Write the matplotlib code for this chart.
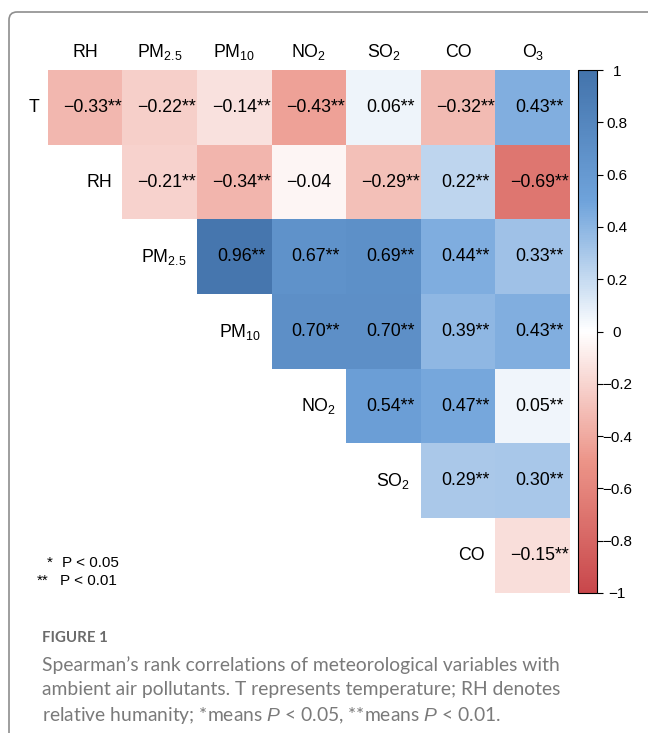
"""Spearman rank correlations between meteorology and air pollutants,
upper-triangle heatmap with significance stars and a caption block."""
import numpy as np
import matplotlib.pyplot as plt
from matplotlib.colors import LinearSegmentedColormap
from matplotlib.patches import FancyBboxPatch
from matplotlib.transforms import IdentityTransform

plt.rcParams['font.family'] = ['Liberation Sans', 'DejaVu Sans']
plt.rcParams['mathtext.fontset'] = 'custom'
plt.rcParams['mathtext.rm'] = 'Liberation Sans'
plt.rcParams['mathtext.it'] = 'Liberation Sans:italic'

row_labels = ['T', 'RH', r'PM$_\mathregular{2.5}$', r'PM$_\mathregular{10}$',
              r'NO$_\mathregular{2}$', r'SO$_\mathregular{2}$', 'CO']
col_labels = ['RH', r'PM$_\mathregular{2.5}$', r'PM$_\mathregular{10}$',
              r'NO$_\mathregular{2}$', r'SO$_\mathregular{2}$', 'CO', r'O$_\mathregular{3}$']

# upper triangle, one list per row (starting at the diagonal column)
rho_T    = [-0.33, -0.22, -0.14, -0.43, 0.06, -0.32, 0.43]
rho_RH   = [-0.21, -0.34, -0.04, -0.29, 0.22, -0.69]
rho_PM25 = [0.96, 0.67, 0.69, 0.44, 0.33]
rho_PM10 = [0.70, 0.70, 0.39, 0.43]
rho_NO2  = [0.54, 0.47, 0.05]
rho_SO2  = [0.29, 0.30]
rho_CO   = [-0.15]

sig_T    = ['**'] * 7
sig_RH   = ['**', '**', '', '**', '**', '**']
sig_PM25 = ['**'] * 5
sig_PM10 = ['**'] * 4
sig_NO2  = ['**'] * 3
sig_SO2  = ['**'] * 2
sig_CO   = ['**']

rho_rows = [rho_T, rho_RH, rho_PM25, rho_PM10, rho_NO2, rho_SO2, rho_CO]
sig_rows = [sig_T, sig_RH, sig_PM25, sig_PM10, sig_NO2, sig_SO2, sig_CO]

n = len(col_labels)
M = np.full((n, n), np.nan)
for i, vals in enumerate(rho_rows):
    M[i, i:] = vals

cmap = LinearSegmentedColormap.from_list(
    'rb', [(0.0, '#c8474b'), (0.25, '#ec9488'), (0.5, '#ffffff'),
           (0.75, '#6fa3db'), (1.0, '#4373ab')])
cmap.set_bad('white')

W, H = 648, 733
fig = plt.figure(figsize=(W / 100, H / 100), dpi=100)

# outer frame (runs off the right and bottom edges)
frame = FancyBboxPatch((9, -40), 700, H - 12 + 40,
                       boxstyle='round,pad=0,rounding_size=8',
                       transform=IdentityTransform(), fill=False,
                       ec='#8e8e8e', lw=1.2)
fig.add_artist(frame)

gx0, gx1, gy0, gy1 = 48, 570, 70, 593
ax = fig.add_axes([gx0 / W, 1 - gy1 / H, (gx1 - gx0) / W, (gy1 - gy0) / H])
im = ax.imshow(M, cmap=cmap, vmin=-1, vmax=1, aspect='auto',
               interpolation='nearest')
ax.set_xlim(-0.5, n - 0.5)
ax.set_ylim(n - 0.5, -0.5)
ax.axis('off')

fs = 12.8
for i in range(n):
    for j in range(i, n):
        v = M[i, j]
        s = sig_rows[i][j - i]
        num = f'{v:.2f}'.replace('-', '\u2212')
        # number centred in the cell, stars hang off to the right
        off = 0.39 * fs * len(s) / 2
        ax.annotate(num + s, (j, i), xytext=(off, 0), textcoords='offset points',
                    ha='center', va='center', fontsize=fs, color='black')

for j, lab in enumerate(col_labels):
    ax.text(j, -0.74, lab, ha='center', va='center', fontsize=fs)
for i, lab in enumerate(row_labels):
    x = -0.61 if i == 0 else i - 0.64
    ax.text(x, i, lab, ha='right', va='center', fontsize=fs)

cax = fig.add_axes([578 / W, 1 - gy1 / H, 19 / W, (gy1 - gy0) / H])
ticks = np.round(np.linspace(-1, 1, 11), 1)
cb = fig.colorbar(im, cax=cax, ticks=ticks)
cb.ax.set_yticklabels([f'{t:g}'.replace('-', '\u2212') for t in ticks])
cb.ax.tick_params(length=4, width=0.8, pad=10.4, labelsize=11)
for t in cb.ax.get_yticklabels():
    t.set_horizontalalignment('center')
cb.outline.set_linewidth(0.8)

# significance key
fig.text(47 / W, 1 - 563 / H, '*', fontsize=11, ha='left', va='center')
fig.text(62 / W, 1 - 563 / H, 'P < 0.05', fontsize=11, ha='left', va='center')
fig.text(37 / W, 1 - 581 / H, '**', fontsize=11, ha='left', va='center')
fig.text(60 / W, 1 - 581 / H, 'P < 0.01', fontsize=11, ha='left', va='center')

# caption
cap_font = ['Lato', 'DejaVu Sans']
fig.text(42 / W, 1 - 638 / H, 'FIGURE 1', fontsize=10.8, color='#6b6b6b',
         family=cap_font, weight='bold', va='center')
cap_lines = ["Spearman\u2019s rank correlations of meteorological variables with",
             "ambient air pollutants. T represents temperature; RH denotes",
             "relative humanity; *means $\\it{P}$ < 0.05, **means $\\it{P}$ < 0.01."]
for k, line in enumerate(cap_lines):
    fig.text(42 / W, 1 - (665 + 25 * k) / H, line, fontsize=13.9,
             color='#7a7a7a', family=cap_font, va='center')

fig.savefig('out.png', dpi=100)
